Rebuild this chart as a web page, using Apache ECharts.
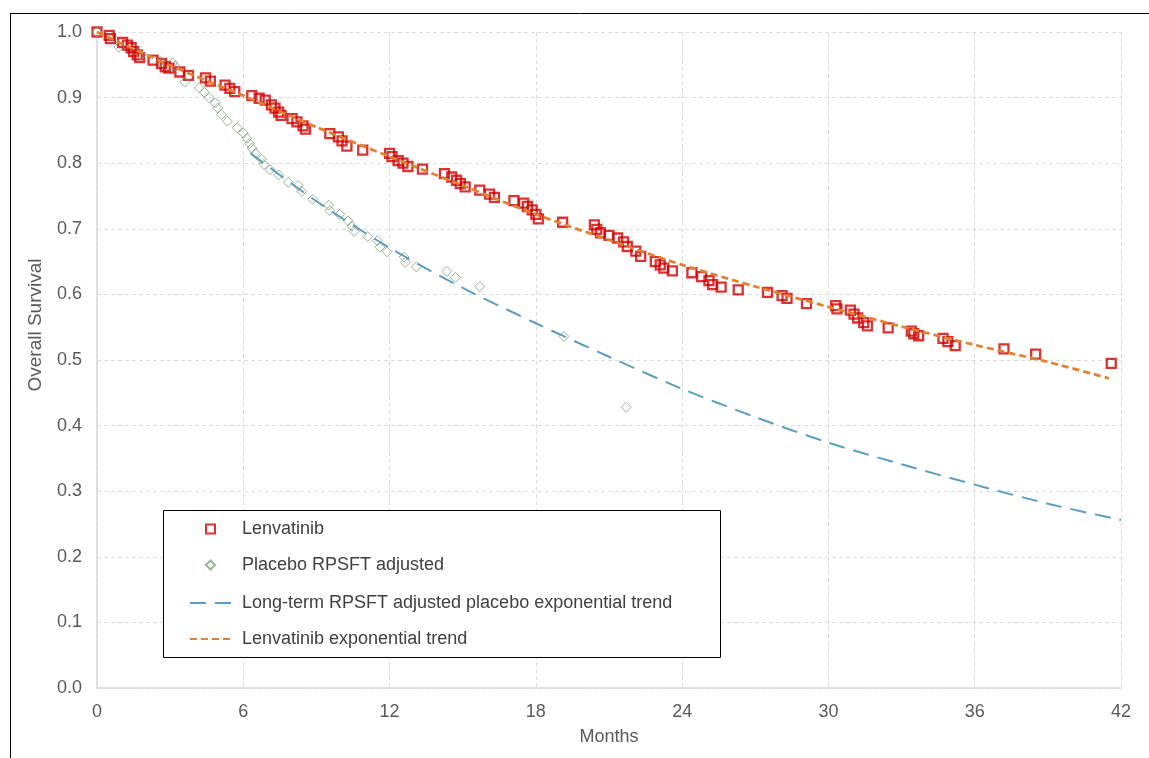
<!DOCTYPE html>
<html>
<head>
<meta charset="utf-8">
<script src="https://cdn.jsdelivr.net/npm/echarts@6/dist/echarts.min.js"></script>
<style>
html,body{margin:0;padding:0;background:#fff;}
#chart{width:1149px;height:758px;}
</style>
</head>
<body>
<div id="chart"></div>
<script>
// ---- data ----
const xTicks = [0, 6, 12, 18, 24, 30, 36, 42];
const yTicks = [0.0, 0.1, 0.2, 0.3, 0.4, 0.5, 0.6, 0.7, 0.8, 0.9, 1.0];

const seriesNames = [
  'Lenvatinib',
  'Placebo RPSFT adjusted',
  'Long-term RPSFT adjusted placebo exponential trend',
  'Lenvatinib exponential trend'
];

const lenvatinibKM = [
  [0,1.0],[0.5,0.995],[0.55,0.99],[1.05,0.984],[1.25,0.98],[1.4,0.976],[1.5,0.97],[1.65,0.965],[1.75,0.961],
  [2.3,0.957],[2.65,0.952],[2.8,0.947],[2.95,0.945],[3.4,0.939],[3.75,0.934],[4.45,0.93],[4.65,0.925],
  [5.25,0.919],[5.45,0.914],[5.65,0.909],[6.35,0.903],[6.65,0.899],[6.9,0.896],[7.15,0.889],[7.3,0.884],
  [7.45,0.878],[7.55,0.873],[8.0,0.868],[8.2,0.863],[8.45,0.857],[8.55,0.852],[9.55,0.845],[9.9,0.84],
  [10.05,0.834],[10.25,0.826],[10.9,0.82],[12.0,0.815],[12.1,0.81],[12.35,0.804],[12.55,0.8],[12.75,0.795],
  [13.35,0.791],[14.25,0.784],[14.55,0.779],[14.75,0.774],[14.9,0.769],[15.1,0.764],[15.7,0.759],[16.1,0.753],
  [16.3,0.748],[17.1,0.743],[17.5,0.739],[17.65,0.734],[17.85,0.729],[18.0,0.722],[18.1,0.715],[19.1,0.71],
  [20.4,0.706],[20.5,0.699],[20.65,0.694],[21.0,0.69],[21.35,0.686],[21.6,0.68],[21.75,0.673],[22.1,0.666],
  [22.3,0.658],[22.9,0.65],[23.1,0.645],[23.25,0.64],[23.6,0.636],[24.4,0.633],[24.8,0.627],[25.1,0.621],
  [25.25,0.615],[25.6,0.611],[26.3,0.607],[27.5,0.603],[28.1,0.598],[28.3,0.594],[29.1,0.586],[30.3,0.583],
  [30.35,0.578],[30.9,0.576],[31.05,0.57],[31.2,0.564],[31.45,0.557],[31.6,0.552],[32.45,0.549],[33.4,0.544],
  [33.5,0.54],[33.7,0.537],[34.7,0.533],[34.9,0.528],[35.2,0.522],[37.2,0.517],[38.5,0.509],[41.6,0.495]
];

const placeboKM = [
  [0,1.0],[0.9,0.977],[1.8,0.965],[2.6,0.955],[3.1,0.953],[3.2,0.948],[3.6,0.924],[4.2,0.915],[4.4,0.908],
  [4.6,0.9],[4.85,0.892],[4.95,0.884],[5.1,0.874],[5.35,0.864],[5.75,0.854],[6.0,0.846],[6.15,0.838],
  [6.25,0.83],[6.35,0.823],[6.5,0.815],[6.75,0.806],[6.85,0.798],[7.1,0.79],[7.45,0.782],[7.85,0.771],
  [8.25,0.766],[8.4,0.757],[8.85,0.745],[9.5,0.736],[9.55,0.728],[9.95,0.722],[10.3,0.712],[10.45,0.704],
  [10.55,0.696],[11.1,0.688],[11.5,0.682],[11.6,0.672],[11.9,0.665],[12.6,0.657],[12.65,0.649],[13.1,0.642],
  [14.35,0.635],[14.7,0.626],[15.7,0.612],[19.15,0.536],[21.7,0.428]
];

const placeboTrend = [
  [6.3,0.815],[9,0.742],[12,0.671],[15,0.61],[18,0.556],[21,0.505],[24,0.456],[27,0.413],
  [30,0.374],[33,0.341],[36,0.31],[39,0.281],[42,0.256]
];

const lenvatinibTrend = [
  [0,1.0],[3,0.949],[6,0.903],[9,0.855],[12,0.81],[15,0.766],[18,0.722],[21,0.683],
  [24,0.645],[27,0.612],[30,0.581],[33,0.551],[36,0.523],[39,0.497],[41.5,0.472]
];

// ---- chart ----
const FONT = '"Liberation Sans", Arial, sans-serif';
const chart = echarts.init(document.getElementById('chart'), null, {renderer: 'canvas'});

const option = {
  backgroundColor: '#ffffff',
  animation: false,
  textStyle: {fontFamily: FONT},
  grid: {left: 97, right: 28, top: 32, bottom: 70, containLabel: false},
  xAxis: {
    type: 'value',
    min: xTicks[0], max: xTicks[xTicks.length - 1], interval: 6,
    name: 'Months', nameLocation: 'middle', nameGap: 40,
    nameTextStyle: {color: '#595959', fontSize: 18, fontFamily: FONT},
    axisLine: {show: true, lineStyle: {color: '#d9d9d9', width: 1.5}},
    axisTick: {show: false},
    axisLabel: {color: '#595959', fontSize: 18, fontFamily: FONT, margin: 15},
    splitLine: {show: true, lineStyle: {color: '#dcdcdc', type: [4, 3], width: 1}}
  },
  yAxis: {
    type: 'value',
    min: yTicks[0], max: yTicks[yTicks.length - 1], interval: 0.1,
    axisLine: {show: true, lineStyle: {color: '#d9d9d9', width: 1.5}},
    axisTick: {show: false},
    axisLabel: {color: '#595959', fontSize: 18, fontFamily: FONT, margin: 15,
      formatter: v => v.toFixed(1)},
    splitLine: {show: true, lineStyle: {color: '#dcdcdc', type: [4, 3], width: 1}}
  },
  legend: [
    {
      data: [seriesNames[0], seriesNames[1]],
      orient: 'vertical', left: 205, top: 520,
      itemWidth: 9, itemHeight: 9, itemGap: 18, padding: 0,
      textStyle: {color: '#404040', fontSize: 18, fontFamily: FONT, padding: [0, 0, 0, 22]},
      z: 10
    },
    {
      data: [seriesNames[2], seriesNames[3]],
      orient: 'vertical', left: 189, top: 594,
      itemWidth: 44, itemHeight: 10, itemGap: 18, padding: 0,
      itemStyle: {opacity: 0},
      textStyle: {color: '#404040', fontSize: 18, fontFamily: FONT, padding: [0, 0, 0, 3]},
      z: 10
    }
  ],
  graphic: [
    // outer frame lines (top and left)
    {type: 'line', z: 1, shape: {x1: 10, y1: 13.5, x2: 1149, y2: 13.5}, style: {stroke: '#000', lineWidth: 1}},
    {type: 'line', z: 1, shape: {x1: 10.5, y1: 13.5, x2: 10.5, y2: 758}, style: {stroke: '#000', lineWidth: 1}},
    // legend box
    {type: 'rect', z: 5, shape: {x: 163.5, y: 510.5, width: 557, height: 147},
      style: {fill: '#ffffff', stroke: '#000000', lineWidth: 1}},
    // y axis title
    {type: 'text', z: 5, x: 36, y: 325, rotation: Math.PI / 2,
      style: {text: 'Overall Survival', fill: '#595959', font: '19px ' + FONT,
        textAlign: 'center', textVerticalAlign: 'middle'}}
  ],
  series: [
    {
      name: seriesNames[0], type: 'scatter', data: lenvatinibKM,
      symbol: 'rect', symbolSize: 9,
      itemStyle: {color: 'rgba(255,255,255,0)', borderColor: '#d10000', borderWidth: 2.3},
      z: 2
    },
    {
      name: seriesNames[1], type: 'scatter', data: placeboKM,
      symbol: 'diamond', symbolSize: 10,
      itemStyle: {color: 'rgba(255,255,255,0)', borderColor: '#80a078', borderWidth: 1},
      z: 2
    },
    {
      name: seriesNames[2], type: 'line', data: placeboTrend,
      smooth: 0.3, symbol: 'none', showSymbol: false,
      itemStyle: {color: '#5b9ec0'},
      lineStyle: {color: '#5b9ec0', width: 2, type: [16, 9]},
      z: 3
    },
    {
      name: seriesNames[3], type: 'line', data: lenvatinibTrend,
      smooth: 0.3, symbol: 'none', showSymbol: false,
      itemStyle: {color: '#e0822f'},
      lineStyle: {color: '#e0822f', width: 2.8, type: [7, 4]},
      z: 3
    }
  ]
};
chart.setOption(option);
</script>
</body>
</html>
